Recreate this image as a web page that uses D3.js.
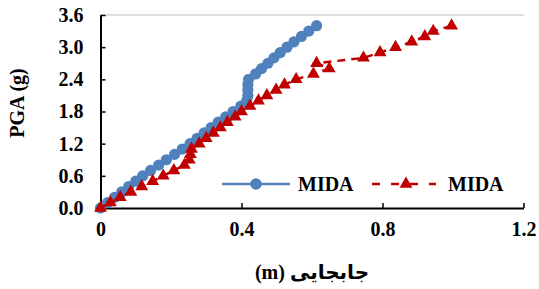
<!DOCTYPE html>
<html>
<head>
<meta charset="utf-8">
<script src="https://cdn.jsdelivr.net/npm/d3@7"></script>
<style>
  html, body { margin: 0; padding: 0; background: #fff; }
  svg { display: block; }
  text { font-family: "Liberation Serif", "Times New Roman", "DejaVu Sans", serif; font-weight: bold; fill: #000; }
</style>
</head>
<body>
<svg id="chart" width="539" height="289"></svg>
<script>
// ---- data ----
const pgaBlue = [0.0,0.1,0.2,0.3,0.4,0.5,0.6,0.7,0.8,0.9,1.0,1.1,1.2,1.3,1.4,1.5,1.6,1.7,1.8,1.9,2.0,2.1,2.2,2.3,2.4,2.5,2.6,2.7,2.8,2.9,3.0,3.1,3.2,3.3,3.4];
const dispBlue = [0,0.02,0.04,0.06,0.08,0.10,0.12,0.142,0.165,0.187,0.21,0.232,0.254,0.274,0.294,0.314,0.334,0.355,0.376,0.398,0.415,0.418,0.418,0.418,0.42,0.44,0.457,0.475,0.492,0.51,0.529,0.549,0.57,0.591,0.613];
const pgaRed = [0.0,0.1,0.2,0.3,0.4,0.5,0.6,0.7,0.8,0.9,1.0,1.1,1.2,1.3,1.4,1.5,1.6,1.7,1.8,1.9,2.0,2.1,2.2,2.3,2.4,2.5,2.6,2.7,2.8,2.9,3.0,3.1,3.2,3.3,3.4];
const dispRed = [0,0.028,0.056,0.086,0.117,0.148,0.178,0.208,0.238,0.252,0.255,0.258,0.28,0.30,0.32,0.34,0.36,0.382,0.40,0.424,0.448,0.472,0.498,0.522,0.555,0.604,0.649,0.613,0.746,0.793,0.837,0.883,0.92,0.944,0.996];
const xTicks = [0, 0.4, 0.8, 1.2];
const xTickLabels = ["0", "0.4", "0.8", "1.2"];
const yTicks = [0, 0.6, 1.2, 1.8, 2.4, 3.0, 3.6];
const yTickLabels = ["0.0", "0.6", "1.2", "1.8", "2.4", "3.0", "3.6"];
const seriesNames = ["MIDA", "MIDA"];
const xTitle = "جابجایی (m)";
const yTitle = "PGA (g)";

// ---- layout ----
const svg = d3.select("#chart");
const pLeft = 100.5, pRight = 523.5, pTop = 15, pBottom = 208;
const x = d3.scaleLinear().domain([0, 1.2]).range([pLeft, pRight]);
const y = d3.scaleLinear().domain([0, 3.6]).range([pBottom, pTop]);
const blue = "#4F81BD", red = "#C00000";

// top gridline
svg.append("line").attr("x1", pLeft).attr("x2", pRight).attr("y1", y(3.6)).attr("y2", y(3.6))
  .attr("stroke", "#bfbfbf").attr("stroke-width", 1.2);

// axes
const xAxis = d3.axisBottom(x).tickValues(xTicks).tickFormat((d, i) => xTickLabels[i]).tickSizeInner(-5).tickSizeOuter(0).tickPadding(14);
const gx = svg.append("g").attr("transform", `translate(0,${pBottom})`).call(xAxis);
gx.select(".domain").attr("stroke", "#000").attr("stroke-width", 2);
gx.selectAll(".tick line").attr("stroke", "#000").attr("stroke-width", 1.5);
gx.selectAll(".tick").filter(d => d === 0).select("line").remove();
gx.selectAll("text").attr("font-size", 20).attr("font-family", null).attr("dy", "0.71em").attr("y", 14);

const yAxis = d3.axisLeft(y).tickValues(yTicks).tickFormat((d, i) => yTickLabels[i]).tickSizeInner(-5).tickSizeOuter(0).tickPadding(17);
const gy = svg.append("g").attr("transform", `translate(${pLeft},0)`).call(yAxis);
gy.select(".domain").attr("stroke", "#000").attr("stroke-width", 2);
gy.selectAll(".tick line").attr("stroke", "#000").attr("stroke-width", 1.5);
gy.selectAll(".tick").filter(d => d === 0).select("line").remove();
gy.selectAll("text").attr("font-size", 20).attr("font-family", null);

// series
const blueData = pgaBlue.map((p, i) => ({ x: dispBlue[i], y: p }));
const redData = pgaRed.map((p, i) => ({ x: dispRed[i], y: p }));
const line = d3.line().x(d => x(d.x)).y(d => y(d.y));

svg.append("path").datum(blueData).attr("d", line).attr("fill", "none")
  .attr("stroke", blue).attr("stroke-width", 2.5);
svg.append("g").selectAll("circle").data(blueData).join("circle")
  .attr("cx", d => x(d.x)).attr("cy", d => y(d.y)).attr("r", 5.6).attr("fill", blue);

const tri = d3.symbol().type(d3.symbolTriangle).size(72);
svg.append("path").datum(redData).attr("d", line).attr("fill", "none")
  .attr("stroke", red).attr("stroke-width", 2.5).attr("stroke-dasharray", "8,6");
svg.append("g").selectAll("path").data(redData).join("path")
  .attr("d", tri).attr("transform", d => `translate(${x(d.x)},${y(d.y)})`).attr("fill", red);

// legend
const ly = 184;
svg.append("line").attr("x1", 222).attr("x2", 290).attr("y1", ly).attr("y2", ly).attr("stroke", blue).attr("stroke-width", 2.5);
svg.append("circle").attr("cx", 256).attr("cy", ly).attr("r", 5.8).attr("fill", blue);
svg.append("text").attr("x", 298).attr("y", ly + 7).attr("font-size", 20).text(seriesNames[0]);
svg.append("line").attr("x1", 372).attr("x2", 436).attr("y1", ly).attr("y2", ly).attr("stroke", red).attr("stroke-width", 2.5).attr("stroke-dasharray", "8,11");
svg.append("path").attr("d", tri).attr("transform", `translate(406,${ly})`).attr("fill", red);
svg.append("text").attr("x", 448).attr("y", ly + 7).attr("font-size", 20).text(seriesNames[1]);

// titles
svg.append("text").attr("x", (pLeft + pRight) / 2).attr("y", 279).attr("text-anchor", "middle")
  .attr("direction", "rtl").attr("font-size", 20).text(xTitle);
svg.append("text").attr("transform", "translate(24,103) rotate(-90)").attr("text-anchor", "middle")
  .attr("font-size", 20).text(yTitle);
</script>
</body>
</html>
